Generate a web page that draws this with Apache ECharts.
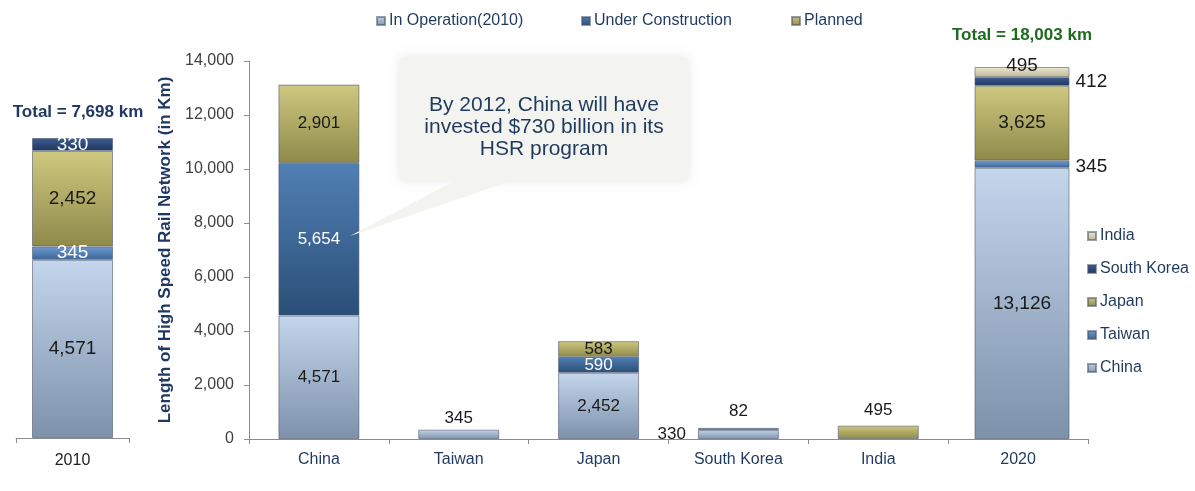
<!DOCTYPE html>
<html>
<head>
<meta charset="utf-8">
<title>High Speed Rail Network</title>
<script src="https://cdn.jsdelivr.net/npm/echarts@6/dist/echarts.min.js"></script>
<style>
  html, body { margin: 0; padding: 0; background: #fff; }
  #chart { width: 1195px; height: 491px; }
</style>
</head>
<body>
<div id="chart"></div>
<script>
// middle chart, by country
const categories = ['China', 'Taiwan', 'Japan', 'South Korea', 'India', '2020']
const inOperation = [4571, 345, 2452, 330, null, null]
const underConstruction = [5654, null, 590, 82, null, null]
const planned = [2901, null, 583, null, 495, null]

// side bars, network per country in 2010 and 2020
const countries = ['China', 'Taiwan', 'Japan', 'South Korea', 'India']
const network2010 = [4571, 345, 2452, 330, null]
const network2020 = [13126, 345, 3625, 412, 495]
const total2010 = 7698
const total2020 = 18003

const FONT = '"Liberation Sans", Arial, sans-serif'
const NAVY = '#1f3a5f'
const DARK = '#1a1a1a'

function grad(top, bottom) {
  return new echarts.graphic.LinearGradient(0, 0, 0, 1, [
    { offset: 0, color: top },
    { offset: 1, color: bottom }
  ])
}

const colors = {
  light: grad('#c4d6ec', '#7d91ab'),   // in operation / China
  mid: grad('#5080b4', '#2b4e77'),     // under construction
  olive: grad('#cfc880', '#8f8a4a'),   // planned / Japan
  taiwan: grad('#6e9bd0', '#3b6598'),
  korea: grad('#3e5e94', '#1e345e'),
  india: grad('#ebe7d3', '#bdb898')
}
const countryColor = {
  China: colors.light, Taiwan: colors.taiwan, Japan: colors.olive,
  'South Korea': colors.korea, India: colors.india
}

const fmt = v => (v == null ? '' : v.toLocaleString('en-US'))
const border = { borderColor: 'rgba(70,80,100,0.55)', borderWidth: 1 }

// label placement for the middle chart (default: inside)
const mainLabels = {
  'In Operation(2010)': { Taiwan: { position: 'top', distance: 3 }, 'South Korea': { position: 'left', distance: 12 } },
  'Under Construction': { _color: '#fff', 'South Korea': { position: 'top', distance: 8, color: DARK } },
  'Planned': { India: { position: 'top', distance: 7 } }
}

function mainSeries(name, values, color) {
  const conf = mainLabels[name]
  return {
    name: name,
    type: 'bar',
    stack: 'main',
    xAxisIndex: 1,
    yAxisIndex: 1,
    barWidth: 81,
    itemStyle: Object.assign({ color: color }, border),
    label: {
      show: true,
      position: 'inside',
      fontFamily: FONT,
      fontSize: 17,
      color: conf._color || DARK,
      formatter: p => fmt(p.value)
    },
    data: values.map((v, i) => {
      const extra = conf[categories[i]]
      return extra ? { value: v, label: extra } : v
    })
  }
}

// label placement for the 2010 / 2020 bars
const side2010Labels = {
  China: { color: DARK }, Taiwan: { color: '#fff' }, Japan: { color: DARK }, 'South Korea': { color: '#fff' }
}
const side2020Labels = {
  China: { color: DARK },
  Taiwan: { position: 'right', distance: 6, offset: [0, 3] },
  Japan: { color: DARK },
  'South Korea': { position: 'right', distance: 6 },
  India: { offset: [0, -6] }
}

function sideSeries(values, axis, stack, labels, barWidth) {
  return countries.map((c, i) => ({
    name: c,
    type: 'bar',
    stack: stack,
    xAxisIndex: axis,
    yAxisIndex: axis,
    barWidth: barWidth,
    itemStyle: Object.assign({ color: countryColor[c] }, border),
    label: Object.assign({
      show: true,
      position: 'inside',
      fontFamily: FONT,
      fontSize: 19,
      color: DARK,
      formatter: p => fmt(p.value)
    }, labels[c] || {}),
    data: [values[i]]
  }))
}

const axisLine = { lineStyle: { color: '#8c8c8c', width: 1 } }
const axisTick = { show: true, length: 5, lineStyle: { color: '#8c8c8c' } }
const xLabel = { fontFamily: FONT, fontSize: 16, color: NAVY, margin: 13 }

function legend(names, left, top, orient) {
  return {
    data: names,
    left: left,
    top: top,
    orient: orient || 'horizontal',
    icon: 'rect',
    itemWidth: 8,
    itemHeight: 8,
    itemGap: 15,
    selectedMode: false,
    textStyle: { fontFamily: FONT, fontSize: 16, color: NAVY, lineHeight: 18, padding: [0, 0, 0, -1] }
  }
}

const chart = echarts.init(document.getElementById('chart'))
chart.setOption({
  backgroundColor: '#fff',
  animation: false,
  legend: [
    legend(['In Operation(2010)'], 371, 7),
    legend(['Under Construction'], 576, 7),
    legend(['Planned'], 786, 7),
    legend(['India', 'South Korea', 'Japan', 'Taiwan', 'China'], 1082, 222, 'vertical')
  ],
  grid: [
    { left: 16, width: 113, top: 138, height: 300 },
    { left: 249, width: 839, top: 61, height: 378 },
    { left: 956, width: 132, top: 67, height: 372 }
  ],
  xAxis: [
    { gridIndex: 0, type: 'category', data: ['2010'], axisLine: axisLine, axisTick: axisTick,
      axisLabel: Object.assign({}, xLabel, { margin: 15, color: '#222' }) },
    { gridIndex: 1, type: 'category', data: categories, axisLine: axisLine, axisTick: axisTick,
      axisLabel: xLabel },
    { gridIndex: 2, type: 'category', data: ['2020'], show: false }
  ],
  yAxis: [
    { gridIndex: 0, type: 'value', min: 0, max: total2010, show: false },
    {
      gridIndex: 1,
      type: 'value',
      min: 0,
      max: 14000,
      interval: 2000,
      name: 'Length of High Speed Rail Network (in Km)',
      nameLocation: 'middle',
      nameGap: 71,
      nameTextStyle: { fontFamily: FONT, fontSize: 17, fontWeight: 'bold', color: '#1f3864' },
      axisLine: Object.assign({ show: true }, axisLine),
      axisTick: axisTick,
      splitLine: { show: false },
      axisLabel: { fontFamily: FONT, fontSize: 16, color: '#404040', margin: 15, formatter: v => fmt(v) }
    },
    { gridIndex: 2, type: 'value', min: 0, max: total2020, show: false }
  ],
  series: [
    mainSeries('In Operation(2010)', inOperation, colors.light),
    mainSeries('Under Construction', underConstruction, colors.mid),
    mainSeries('Planned', planned, colors.olive),
    ...sideSeries(network2010, 0, 'y2010', side2010Labels, 81),
    ...sideSeries(network2020, 2, 'y2020', side2020Labels, 95)
  ],
  graphic: [
    {
      type: 'text', z: 10,
      style: { text: 'Total = ' + fmt(total2010) + ' km', x: 78, y: 112, align: 'center', verticalAlign: 'middle',
        font: 'bold 17px ' + FONT, fill: '#1f3864' }
    },
    {
      type: 'text', z: 10,
      style: { text: 'Total = ' + fmt(total2020) + ' km', x: 1022, y: 35, align: 'center', verticalAlign: 'middle',
        font: 'bold 17px ' + FONT, fill: '#1e6b1e' }
    },
    // callout bubble
    {
      type: 'rect', z: 10,
      shape: { x: 400, y: 58, width: 288, height: 122 },
      style: { fill: '#f3f3ef', shadowBlur: 10, shadowColor: 'rgba(0,0,0,0.10)' }
    },
    {
      type: 'polygon', z: 11,
      shape: { points: [[460, 178], [520, 178], [350, 236]] },
      style: { fill: '#f3f3ef' }
    },
    {
      type: 'text', z: 12,
      style: {
        text: 'By 2012, China will have\ninvested $730 billion in its\nHSR program',
        x: 544, y: 127, align: 'center', verticalAlign: 'middle',
        fontFamily: FONT, fontSize: 21, lineHeight: 22, fill: NAVY
      }
    }
  ]
})
</script>
</body>
</html>
